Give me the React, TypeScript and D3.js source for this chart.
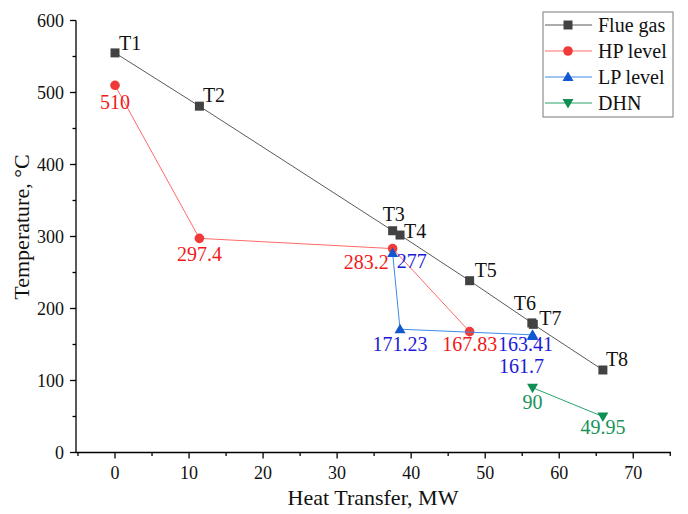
import React from "react";
import * as d3 from "d3";

const W = 688;
const H = 514;

// Flue gas
const flueX = [0, 11.4, 37.5, 38.5, 47.9, 56.3, 56.5, 65.9];
const flueY = [555, 481, 308, 302, 238.6, 180, 178, 114.6];
const flueLabels = ["T1", "T2", "T3", "T4", "T5", "T6", "T7", "T8"];

// HP level
const hpX = [0, 11.4, 37.5, 47.9];
const hpY = [510, 297.4, 283.2, 167.83];
const hpLabels = ["510", "297.4", "283.2", "167.83"];

// LP level
const lpX = [37.5, 38.5, 56.4, 56.4];
const lpY = [277, 171.23, 163.41, 161.7];
const lpLabels = ["277", "171.23", "163.41", "161.7"];

// DHN
const dhnX = [56.4, 65.9];
const dhnY = [90, 49.95];
const dhnLabels = ["90", "49.95"];

const xTicks = [0, 10, 20, 30, 40, 50, 60, 70];
const yTicks = [0, 100, 200, 300, 400, 500, 600];
const seriesNames = ["Flue gas", "HP level", "LP level", "DHN"];

// label placement (style): [dx, dy, anchor]
type LP = [number, number, string];
const flueLabelPos: LP[] = [
  [4, -3, "start"],
  [3.5, -4, "start"],
  [-10, -10, "start"],
  [4, 3, "start"],
  [5, -4, "start"],
  [-18, -13, "start"],
  [6, 1, "start"],
  [3, -4, "start"],
];
const hpLabelPos: LP[] = [
  [0, 24, "middle"],
  [0, 23, "middle"],
  [-4, 20, "end"],
  [0, 19, "middle"],
];
const lpLabelPos: LP[] = [
  [4, 15, "start"],
  [0, 21.5, "middle"],
  [-7, 16, "middle"],
  [-11, 37, "middle"],
];
const dhnLabelPos: LP[] = [
  [0, 21, "middle"],
  [0, 17, "middle"],
];

const FONT = "'Liberation Serif', serif";

const x = d3.scaleLinear().domain([-5.27, 75.1]).range([76, 671]);
const y = d3.scaleLinear().domain([0, 600]).range([452.5, 20.5]);

const colors = {
  flueLine: "#5a5a5a",
  flueMark: "#424242",
  flueText: "#111111",
  hpLine: "#ff6a6a",
  hpMark: "#f03a3a",
  hpText: "#f01a1a",
  lpLine: "#3d8be6",
  lpMark: "#1057d0",
  lpText: "#1a1ad8",
  dhnLine: "#28a46c",
  dhnMark: "#0f8f55",
  dhnText: "#17935a",
};

function Marker({ kind, cx, cy, fill }: { kind: string; cx: number; cy: number; fill: string }) {
  if (kind === "square") return <rect x={cx - 4.5} y={cy - 4.5} width={9} height={9} fill={fill} />;
  if (kind === "circle") return <circle cx={cx} cy={cy} r={4.8} fill={fill} />;
  if (kind === "up")
    return <path d={`M${cx},${cy - 5.5} L${cx + 5.5},${cy + 4} L${cx - 5.5},${cy + 4} Z`} fill={fill} />;
  return <path d={`M${cx},${cy + 5.5} L${cx + 5.5},${cy - 4} L${cx - 5.5},${cy - 4} Z`} fill={fill} />;
}

function Series({
  xs, ys, labels, pos, line, mark, text, kind,
}: {
  xs: number[]; ys: number[]; labels: string[]; pos: LP[]; line: string; mark: string; text: string; kind: string;
}) {
  const pts: [number, number][] = xs.map((v, i) => [x(v), y(ys[i])]);
  const path = d3.line()(pts) || "";
  return (
    <g>
      <path d={path} fill="none" stroke={line} strokeWidth={1} />
      {pts.map((p, i) => (
        <Marker key={i} kind={kind} cx={p[0]} cy={p[1]} fill={mark} />
      ))}
      {pts.map((p, i) => (
        <text
          key={"t" + i}
          x={p[0] + pos[i][0]}
          y={p[1] + pos[i][1]}
          textAnchor={pos[i][2] as any}
          fill={text}
          fontSize={20}
        >
          {labels[i]}
        </text>
      ))}
    </g>
  );
}

export default function App() {
  const xMinor = d3.range(-5, 76, 5).filter((v) => v % 10 !== 0);
  const yMinor = d3.range(50, 600, 100);
  const y0 = y(0);
  const xl = x.range()[0];
  const legendItems = [
    { name: seriesNames[0], line: colors.flueLine, mark: colors.flueMark, kind: "square" },
    { name: seriesNames[1], line: colors.hpLine, mark: colors.hpMark, kind: "circle" },
    { name: seriesNames[2], line: colors.lpLine, mark: colors.lpMark, kind: "up" },
    { name: seriesNames[3], line: colors.dhnLine, mark: colors.dhnMark, kind: "down" },
  ];
  return (
    <div style={{ fontFamily: FONT }}>
      <svg
        width={W}
        height={H}
        fontFamily={FONT}
        style={{ position: "absolute", left: 0, top: 0, background: "#fff" }}
      >
        <style>{`text { font-family: 'Liberation Serif', serif; }`}</style>
        <rect width={W} height={H} fill="#fff" />
        {/* axes */}
        <line x1={xl} x2={x.range()[1]} y1={y0} y2={y0} stroke="#000" strokeWidth={1.3} />
        <line x1={xl} x2={xl} y1={y0} y2={y(600)} stroke="#000" strokeWidth={1.3} />
        {xTicks.map((t) => (
          <g key={"xt" + t}>
            <line x1={x(t)} x2={x(t)} y1={y0} y2={y0 + 6} stroke="#000" strokeWidth={1.3} />
            <text x={x(t)} y={479} textAnchor="middle" fill="#111" fontSize={18}>
              {t}
            </text>
          </g>
        ))}
        {xMinor.map((t) => (
          <line key={"xm" + t} x1={x(t)} x2={x(t)} y1={y0} y2={y0 + 3.5} stroke="#000" strokeWidth={1.3} />
        ))}
        {yTicks.map((t) => (
          <g key={"yt" + t}>
            <line x1={xl - 6} x2={xl} y1={y(t)} y2={y(t)} stroke="#000" strokeWidth={1.3} />
            <text x={64} y={y(t) + 6} textAnchor="end" fill="#111" fontSize={18}>
              {t}
            </text>
          </g>
        ))}
        {yMinor.map((t) => (
          <line key={"ym" + t} x1={xl - 3.5} x2={xl} y1={y(t)} y2={y(t)} stroke="#000" strokeWidth={1.3} />
        ))}
        <text x={373} y={505} textAnchor="middle" fill="#111" fontSize={22}>
          Heat Transfer, MW
        </text>
        <text transform={`translate(29,${227}) rotate(-90)`} textAnchor="middle" fill="#111" fontSize={22}>
          Temperature, °C
        </text>

        <Series xs={hpX} ys={hpY} labels={hpLabels} pos={hpLabelPos} line={colors.hpLine} mark={colors.hpMark} text={colors.hpText} kind="circle" />
        <Series xs={lpX} ys={lpY} labels={lpLabels} pos={lpLabelPos} line={colors.lpLine} mark={colors.lpMark} text={colors.lpText} kind="up" />
        <Series xs={dhnX} ys={dhnY} labels={dhnLabels} pos={dhnLabelPos} line={colors.dhnLine} mark={colors.dhnMark} text={colors.dhnText} kind="down" />
        <Series xs={flueX} ys={flueY} labels={flueLabels} pos={flueLabelPos} line={colors.flueLine} mark={colors.flueMark} text={colors.flueText} kind="square" />

        {/* legend */}
        <rect x={543} y={12} width={130} height={105} fill="#fff" stroke="#7a7a7a" strokeWidth={1} />
        {legendItems.map((it, i) => {
          const cy = 25 + i * 26;
          return (
            <g key={it.name}>
              <line x1={545} x2={592} y1={cy} y2={cy} stroke={it.line} strokeWidth={1} />
              <Marker kind={it.kind} cx={568} cy={cy} fill={it.mark} />
              <text x={598} y={cy + 7} fill="#111" fontSize={20}>
                {it.name}
              </text>
            </g>
          );
        })}
      </svg>
    </div>
  );
}
